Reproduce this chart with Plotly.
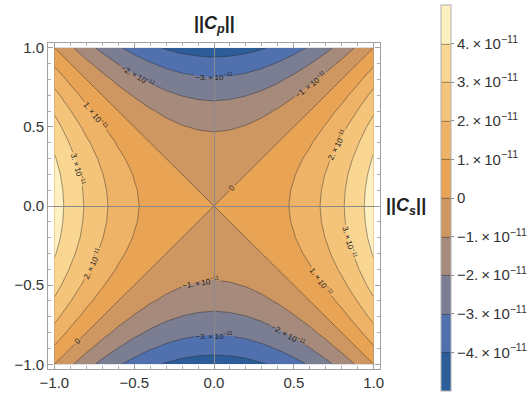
import plotly.graph_objects as go

# grid coordinates (||C_s|| horizontally, ||C_p|| vertically)
x_vals = [-1.0, -0.9, -0.8, -0.7, -0.6, -0.5, -0.4, -0.3, -0.2, -0.1, 0.0,
          0.1, 0.2, 0.3, 0.4, 0.5, 0.6, 0.7, 0.8, 0.9, 1.0]
y_vals = [-1.0, -0.9, -0.8, -0.7, -0.6, -0.5, -0.4, -0.3, -0.2, -0.1, 0.0,
          0.1, 0.2, 0.3, 0.4, 0.5, 0.6, 0.7, 0.8, 0.9, 1.0]

# values in units of 1e-11, rows follow y_vals (bottom to top)
z_vals = [
    [0.00, -0.85, -1.62, -2.29, -2.88, -3.37, -3.78, -4.09, -4.32, -4.45, -4.50, -4.45, -4.32, -4.09, -3.78, -3.37, -2.88, -2.29, -1.62, -0.85, 0.00],
    [0.85, 0.00, -0.77, -1.44, -2.03, -2.52, -2.93, -3.24, -3.47, -3.60, -3.65, -3.60, -3.47, -3.24, -2.93, -2.52, -2.03, -1.44, -0.77, 0.00, 0.85],
    [1.62, 0.77, 0.00, -0.67, -1.26, -1.75, -2.16, -2.47, -2.70, -2.83, -2.88, -2.83, -2.70, -2.47, -2.16, -1.75, -1.26, -0.67, 0.00, 0.77, 1.62],
    [2.29, 1.44, 0.67, 0.00, -0.59, -1.08, -1.49, -1.80, -2.03, -2.16, -2.21, -2.16, -2.03, -1.80, -1.49, -1.08, -0.59, 0.00, 0.67, 1.44, 2.29],
    [2.88, 2.03, 1.26, 0.59, 0.00, -0.49, -0.90, -1.21, -1.44, -1.57, -1.62, -1.57, -1.44, -1.21, -0.90, -0.49, 0.00, 0.59, 1.26, 2.03, 2.88],
    [3.37, 2.52, 1.75, 1.08, 0.49, 0.00, -0.41, -0.72, -0.95, -1.08, -1.13, -1.08, -0.95, -0.72, -0.41, 0.00, 0.49, 1.08, 1.75, 2.52, 3.37],
    [3.78, 2.93, 2.16, 1.49, 0.90, 0.41, 0.00, -0.31, -0.54, -0.67, -0.72, -0.67, -0.54, -0.31, 0.00, 0.41, 0.90, 1.49, 2.16, 2.93, 3.78],
    [4.09, 3.24, 2.47, 1.80, 1.21, 0.72, 0.31, 0.00, -0.23, -0.36, -0.41, -0.36, -0.23, 0.00, 0.31, 0.72, 1.21, 1.80, 2.47, 3.24, 4.09],
    [4.32, 3.47, 2.70, 2.03, 1.44, 0.95, 0.54, 0.23, 0.00, -0.13, -0.18, -0.13, 0.00, 0.23, 0.54, 0.95, 1.44, 2.03, 2.70, 3.47, 4.32],
    [4.45, 3.60, 2.83, 2.16, 1.57, 1.08, 0.67, 0.36, 0.13, 0.00, -0.05, 0.00, 0.13, 0.36, 0.67, 1.08, 1.57, 2.16, 2.83, 3.60, 4.45],
    [4.50, 3.65, 2.88, 2.21, 1.62, 1.13, 0.72, 0.41, 0.18, 0.05, 0.00, 0.05, 0.18, 0.41, 0.72, 1.13, 1.62, 2.21, 2.88, 3.65, 4.50],
    [4.45, 3.60, 2.83, 2.16, 1.57, 1.08, 0.67, 0.36, 0.13, 0.00, -0.05, 0.00, 0.13, 0.36, 0.67, 1.08, 1.57, 2.16, 2.83, 3.60, 4.45],
    [4.32, 3.47, 2.70, 2.03, 1.44, 0.95, 0.54, 0.23, 0.00, -0.13, -0.18, -0.13, 0.00, 0.23, 0.54, 0.95, 1.44, 2.03, 2.70, 3.47, 4.32],
    [4.09, 3.24, 2.47, 1.80, 1.21, 0.72, 0.31, 0.00, -0.23, -0.36, -0.41, -0.36, -0.23, 0.00, 0.31, 0.72, 1.21, 1.80, 2.47, 3.24, 4.09],
    [3.78, 2.93, 2.16, 1.49, 0.90, 0.41, 0.00, -0.31, -0.54, -0.67, -0.72, -0.67, -0.54, -0.31, 0.00, 0.41, 0.90, 1.49, 2.16, 2.93, 3.78],
    [3.37, 2.52, 1.75, 1.08, 0.49, 0.00, -0.41, -0.72, -0.95, -1.08, -1.13, -1.08, -0.95, -0.72, -0.41, 0.00, 0.49, 1.08, 1.75, 2.52, 3.37],
    [2.88, 2.03, 1.26, 0.59, 0.00, -0.49, -0.90, -1.21, -1.44, -1.57, -1.62, -1.57, -1.44, -1.21, -0.90, -0.49, 0.00, 0.59, 1.26, 2.03, 2.88],
    [2.29, 1.44, 0.67, 0.00, -0.59, -1.08, -1.49, -1.80, -2.03, -2.16, -2.21, -2.16, -2.03, -1.80, -1.49, -1.08, -0.59, 0.00, 0.67, 1.44, 2.29],
    [1.62, 0.77, 0.00, -0.67, -1.26, -1.75, -2.16, -2.47, -2.70, -2.83, -2.88, -2.83, -2.70, -2.47, -2.16, -1.75, -1.26, -0.67, 0.00, 0.77, 1.62],
    [0.85, 0.00, -0.77, -1.44, -2.03, -2.52, -2.93, -3.24, -3.47, -3.60, -3.65, -3.60, -3.47, -3.24, -2.93, -2.52, -2.03, -1.44, -0.77, 0.00, 0.85],
    [0.00, -0.85, -1.62, -2.29, -2.88, -3.37, -3.78, -4.09, -4.32, -4.45, -4.50, -4.45, -4.32, -4.09, -3.78, -3.37, -2.88, -2.29, -1.62, -0.85, 0.00],
]

contour_levels = [-4, -3, -2, -1, 0, 1, 2, 3, 4]
level_text = [
    "\u22124.\u2009\u00d7\u200910<sup>\u221211</sup>",
    "\u22123.\u2009\u00d7\u200910<sup>\u221211</sup>",
    "\u22122.\u2009\u00d7\u200910<sup>\u221211</sup>",
    "\u22121.\u2009\u00d7\u200910<sup>\u221211</sup>",
    "0",
    "1.\u2009\u00d7\u200910<sup>\u221211</sup>",
    "2.\u2009\u00d7\u200910<sup>\u221211</sup>",
    "3.\u2009\u00d7\u200910<sup>\u221211</sup>",
    "4.\u2009\u00d7\u200910<sup>\u221211</sup>",
]
bar_range = [-5, 5]

# band colours from lowest band to highest band
band_colors = [
    "#2D5D98", "#5070AE", "#7B7D93", "#A68A7C", "#CE9660",
    "#E9A354", "#EFB367", "#F4C47B", "#F9D792", "#FEF0C1",
]

n = len(band_colors)
colorscale = []
for i, c in enumerate(band_colors):
    colorscale.append([i / n, c])
    colorscale.append([(i + 1) / n, c])

axis_tick_vals = [-1.0, -0.5, 0.0, 0.5, 1.0]
axis_tick_text = ["\u22121.0", "\u22120.5", "0.0", "0.5", "1.0"]

FONT = "Liberation Sans, Arial, sans-serif"

fig = go.Figure()
fig.add_trace(go.Contour(
    x=x_vals, y=y_vals, z=z_vals,
    zmin=bar_range[0], zmax=bar_range[1], zauto=False,
    autocontour=False,
    contours=dict(
        start=contour_levels[0], end=contour_levels[-1], size=1,
        coloring="fill", showlabels=True,
        labelfont=dict(size=8, color="#222", family=FONT),
    ),
    colorscale=colorscale,
    line=dict(color="rgba(45,45,45,0.65)", width=0.7, smoothing=0),
    colorbar=dict(
        tickmode="array", tickvals=contour_levels, ticktext=level_text,
        thickness=10, thicknessmode="pixels",
        len=386, lenmode="pixels",
        x=1.184, xanchor="left", y=0.5245, yanchor="middle",
        outlinewidth=1, outlinecolor="#b0b0b0",
        ticks="outside", ticklen=3, tickcolor="#888",
        tickfont=dict(size=15, color="#333", family=FONT),
        ypad=0, xpad=0,
    ),
    hoverinfo="skip",
))

axis_common = dict(
    showgrid=False,
    showline=True, linecolor="#a0a0a0", linewidth=1, mirror="ticks",
    ticks="inside", ticklen=5, tickcolor="#a0a0a0", tickwidth=1,
    tickmode="array", tickvals=axis_tick_vals, ticktext=axis_tick_text,
    tickfont=dict(size=15, color="#333", family=FONT),
    minor=dict(ticks="inside", ticklen=3, dtick=0.1, tick0=0, tickcolor="#b0b0b0"),
    zeroline=True, zerolinecolor="#8a8a8a", zerolinewidth=1,
)
fig.update_xaxes(range=[-1.04, 1.04], **axis_common)
fig.update_yaxes(range=[-1.03, 1.03], **axis_common)

try:
    fig.update_xaxes(zerolinelayer="above traces")
    fig.update_yaxes(zerolinelayer="above traces")
except Exception:
    fig.add_shape(type="line", xref="x", yref="y domain", x0=0, x1=0, y0=0, y1=1,
                  line=dict(color="#8a8a8a", width=1), layer="above")
    fig.add_shape(type="line", xref="x domain", yref="y", x0=0, x1=1, y0=0, y1=0,
                  line=dict(color="#8a8a8a", width=1), layer="above")

fig.add_annotation(x=0, xref="x", y=1.058, yref="paper", yanchor="middle",
                   text="<b>||<i>C<sub>p</sub></i>||</b>", showarrow=False,
                   font=dict(size=18, color="#222", family=FONT))
fig.add_annotation(x=1.012, xref="paper", xanchor="left", y=0, yref="y", yanchor="middle",
                   text="<b>||<i>C<sub>s</sub></i>||</b>", showarrow=False,
                   font=dict(size=18, color="#222", family=FONT))

fig.update_layout(
    width=532, height=396,
    margin=dict(l=48, r=152, t=43, b=27, autoexpand=False),
    paper_bgcolor="white", plot_bgcolor="white",
    showlegend=False,
    font=dict(family=FONT),
)

fig.write_html(
    "out.html",
    config={"displayModeBar": False},
    post_script="document.body.style.margin='0px';document.body.style.overflow='hidden';",
)
